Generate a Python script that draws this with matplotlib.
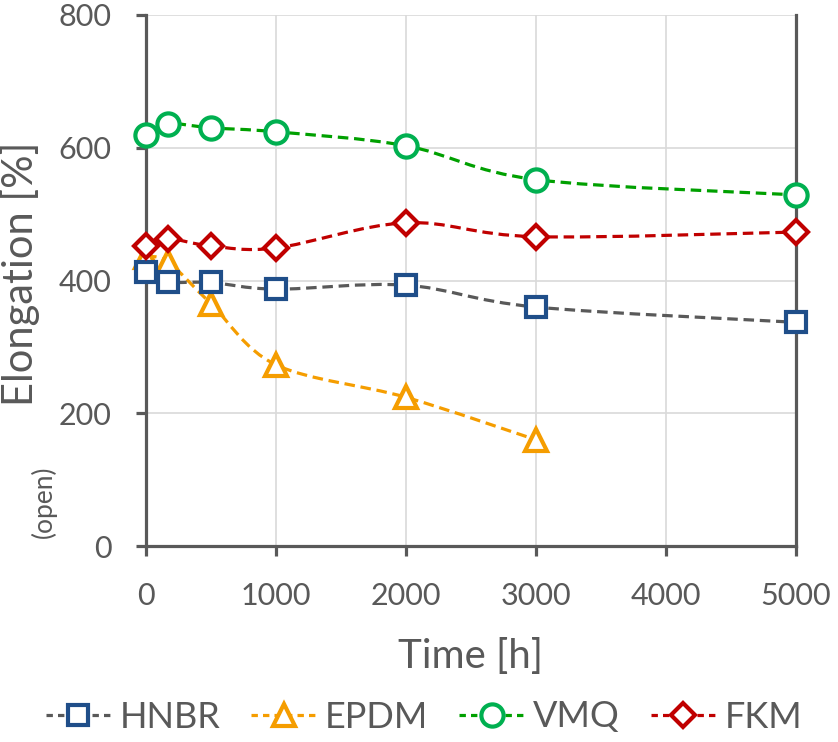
import numpy as np
import matplotlib
matplotlib.use('Agg')
import matplotlib.pyplot as plt
from matplotlib.path import Path
from matplotlib.patches import PathPatch
from matplotlib.lines import Line2D

# values
time_h = [0, 168, 500, 1000, 2000, 3000, 5000]
time_epdm = [0, 168, 500, 1000, 2000, 3000]
hnbr = [413, 398, 397, 387, 393, 360, 337]
epdm = [436, 428, 365, 273, 224, 160]
vmq = [619, 636, 630, 624, 603, 552, 529]
fkm = [452, 463, 452, 449, 487, 466, 473]

x_ticks = [0, 1000, 2000, 3000, 4000, 5000]
y_ticks = [0, 200, 400, 600, 800]

GREY = '#595959'
plt.rcParams['font.family'] = ['Lato', 'DejaVu Sans']


def smooth_path(x, y):
    # Excel-like smoothed line: cubic bezier segments through the points
    pts = np.column_stack([x, y]).astype(float)
    verts = [pts[0]]
    codes = [Path.MOVETO]
    n = len(pts)
    for i in range(n - 1):
        p0 = pts[i - 1] if i > 0 else pts[i]
        p1 = pts[i]
        p2 = pts[i + 1]
        p3 = pts[i + 2] if i + 2 < n else pts[i + 1]
        verts += [p1 + (p2 - p0) / 6, p2 - (p3 - p1) / 6, p2]
        codes += [Path.CURVE4] * 3
    return Path(verts, codes)


fig = plt.figure(figsize=(8.38, 7.42), dpi=100)
ax = fig.add_axes([146 / 838, 1 - 546 / 742, 650 / 838, 531 / 742])

series = [
    # name, x, y, line colour, marker, marker colour, size
    ('HNBR', time_h, hnbr, GREY, 's', '#1F4E89', 14.5),
    ('EPDM', time_epdm, epdm, '#F59D00', '^', '#F59D00', 16),
    ('VMQ', time_h, vmq, '#00A000', 'o', '#00B050', 16),
    ('FKM', time_h, fkm, '#C00000', 'D', '#C00000', 12),
]
draw_order = [1, 0, 2, 3]
dash = (0, (3.3, 1.8))
handles = []
for k, (name, xs, ys, lc, mk, mc, ms) in enumerate(series):
    z = 3 + draw_order[k]
    ax.add_patch(PathPatch(smooth_path(xs, ys), fill=False, edgecolor=lc,
                           lw=2.3, linestyle=dash, zorder=z, clip_on=False))
    ax.plot(xs, ys, linestyle='none', marker=mk, ms=ms, mfc='white', mec=mc,
            mew=3.0, zorder=z + 0.5, clip_on=False)
    handles.append(Line2D([], [], color=lc, lw=2.3, linestyle=(0, (2.0, 1.6)),
                          marker=mk, ms=ms, mfc='white', mec=mc, mew=3.0))

ax.set_xlim(0, 5000)
ax.set_ylim(0, 800)
ax.set_xticks(x_ticks)
ax.set_yticks(y_ticks)
ax.grid(True, color='#D9D9D9', lw=1.2)
ax.set_axisbelow(True)

for side in ['left', 'bottom', 'right']:
    ax.spines[side].set_color(GREY)
    ax.spines[side].set_linewidth(2.3)
ax.spines['top'].set_visible(False)
ax.tick_params(axis='both', direction='out', length=7, width=2.3, color=GREY,
               labelcolor=GREY, labelsize=22)
ax.tick_params(axis='y', pad=18)
ax.tick_params(axis='x', pad=19)

fig.text(470 / 838, 1 - 657 / 742, 'Time [h]', fontsize=29, color=GREY,
         ha='center', va='center')
fig.text(20 / 838, 1 - 274 / 742, 'Elongation [%]', fontsize=30, color=GREY,
         rotation=90, ha='center', va='center')
fig.text(44 / 838, 1 - 502 / 742, '(open)', fontsize=19, color=GREY,
         rotation=90, ha='center', va='center')

fig.legend(handles=handles, labels=[s[0] for s in series], loc='center',
           bbox_to_anchor=(424 / 838, 1 - 717 / 742), ncol=4, frameon=False,
           fontsize=26, labelcolor=GREY, handlelength=1.8, handletextpad=0.25,
           columnspacing=0.85, borderpad=0, borderaxespad=0)

fig.savefig('out.png', dpi=100)
